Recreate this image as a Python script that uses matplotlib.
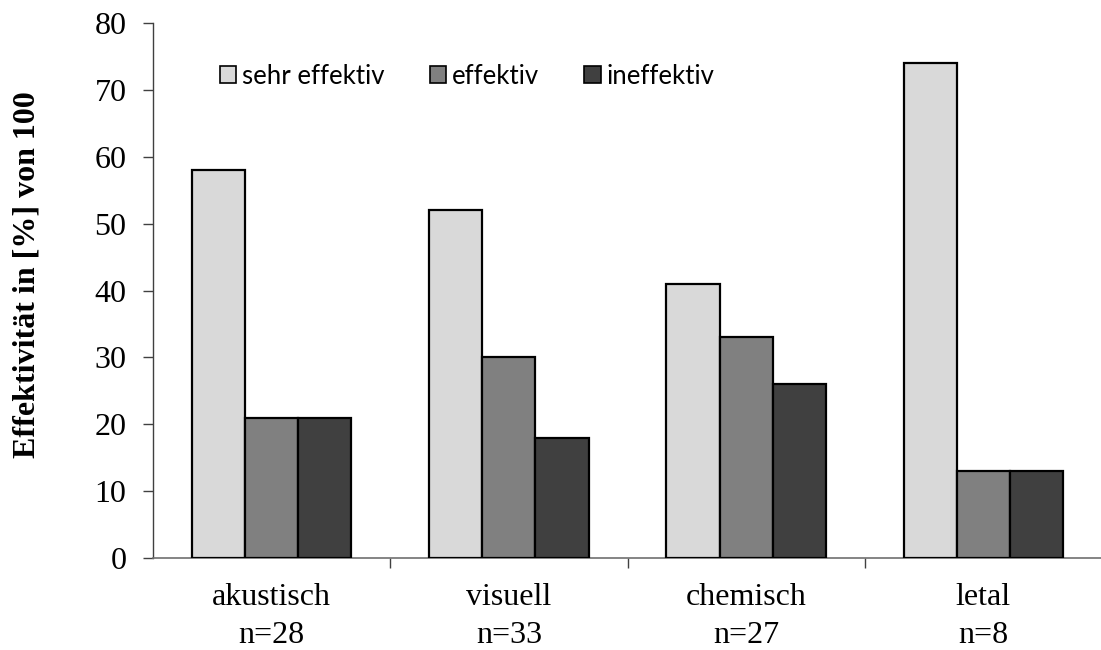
import numpy as np
import matplotlib
matplotlib.use("Agg")
import matplotlib.pyplot as plt

# categories with sample sizes
kategorien = ["akustisch", "visuell", "chemisch", "letal"]
n_werte = [28, 33, 27, 8]

# effectiveness in percent per category
sehr_effektiv = [58, 52, 41, 74]
effektiv = [21, 30, 33, 13]
ineffektiv = [21, 18, 26, 13]

serien = ["sehr effektiv", "effektiv", "ineffektiv"]
farben = ["#d9d9d9", "#808080", "#404040"]

plt.rcParams["font.family"] = "Liberation Serif"

fig = plt.figure(figsize=(11.01, 6.5), dpi=100)
ax = fig.add_axes([153 / 1101, 1 - 558 / 650, 949 / 1101, 535 / 650])

x = np.arange(len(kategorien))
breite = 0.224
for i, (werte, name, farbe) in enumerate(zip([sehr_effektiv, effektiv, ineffektiv], serien, farben)):
    ax.bar(x + (i - 1) * breite, werte, breite, color=farbe, edgecolor="black",
           linewidth=1.6, label=name, zorder=3)

ax.set_xlim(-0.5, len(kategorien) - 0.5)
ax.set_ylim(0, 80)
ax.set_yticks(range(0, 81, 10))
ax.tick_params(axis="y", labelsize=23, length=7, width=1, pad=12, color="#404040")

# category labels in the middle, tick marks between groups
ax.set_xticks(x)
ax.set_xticklabels([f"{k}\nn={n}" for k, n in zip(kategorien, n_werte)], linespacing=1.4)
ax.tick_params(axis="x", which="major", length=0, labelsize=23, pad=18)
ax.set_xticks(np.arange(0.5, len(kategorien) - 0.5, 1), minor=True)
ax.tick_params(axis="x", which="minor", length=7, width=1, direction="out", color="#404040")

for s in ["top", "right"]:
    ax.spines[s].set_visible(False)
ax.spines["left"].set_color("#404040")
ax.spines["bottom"].set_color("#707070")
ax.spines["left"].set_linewidth(1)
ax.spines["bottom"].set_linewidth(1.2)

ax.set_ylabel("Effektivität in [%] von 100", fontsize=23, fontweight="bold")
ax.yaxis.set_label_coords(-0.118, 0.53)

leg = ax.legend(loc="center", bbox_to_anchor=(467 / 1101, 1 - 76 / 650),
                bbox_transform=fig.transFigure, ncol=3, frameon=False,
                prop={"family": "Lato", "size": 18.5}, handlelength=0.65, handleheight=0.65,
                handletextpad=0.22, columnspacing=1.75)
for h in leg.legend_handles:
    h.set_linewidth(1.2)

fig.savefig("out.png", dpi=100)
